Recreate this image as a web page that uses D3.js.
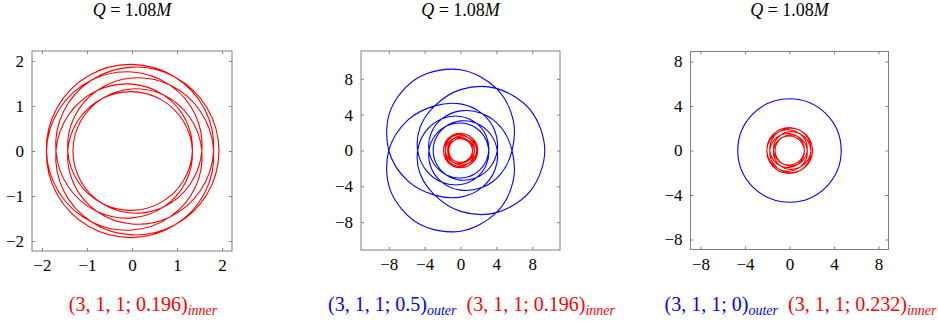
<!DOCTYPE html>
<html>
<head>
<meta charset="utf-8">
<script src="https://cdn.jsdelivr.net/npm/d3@7"></script>
<style>
  body { margin: 0; background: #fff; }
  svg { display: block; }
  text { font-family: "Liberation Serif", "Times New Roman", serif; fill: #000; }
</style>
</head>
<body>
<svg id="chart" width="938" height="327"></svg>
<script>
// Charge shown in every panel title
const chargeValue = "1.08";

// Axis ticks per panel
const ticksInner = [-2, -1, 0, 1, 2];
const ticksWide = [-8, -4, 0, 4, 8];

// Radial profiles r(phi) of the periodic orbits, sampled every 30 degrees
// over one radial period (apoapsis -> periapsis -> apoapsis)
const sampleStepDeg = 30;
const radialPeriodDeg = 840;
const orbitPeriods = 3;

// (3,1,1; 0.196) inner orbit
const rInner196 = [1.93, 1.922, 1.899, 1.862, 1.813, 1.755, 1.689, 1.62, 1.551, 1.485, 1.427, 1.378, 1.341, 1.318, 1.31,
                   1.318, 1.341, 1.378, 1.427, 1.485, 1.551, 1.62, 1.689, 1.755, 1.813, 1.862, 1.899, 1.922, 1.93];
// (3,1,1; 0.232) inner orbit
const rInner232 = [2.08, 2.07, 2.041, 1.995, 1.933, 1.859, 1.777, 1.69, 1.603, 1.521, 1.447, 1.385, 1.339, 1.31, 1.30,
                   1.31, 1.339, 1.385, 1.447, 1.521, 1.603, 1.69, 1.777, 1.859, 1.933, 1.995, 2.041, 2.07, 2.08];
// (3,1,1; 0.5) outer orbit (zoom-whirl)
const rOuter05 = [9.40, 9.01, 8.00, 6.79, 5.75, 5.20, 4.78, 4.42, 4.10, 3.80, 3.52, 3.30, 3.15, 3.07, 3.05,
                  3.07, 3.15, 3.30, 3.52, 3.80, 4.10, 4.42, 4.78, 5.20, 5.75, 6.79, 8.00, 9.01, 9.40];
// (3,1,1; 0) outer orbit: circular
const rOuterCircular = 4.65;

const RED = "#ff0000";
const BLUE = "#0000ff";

// Panel layout
const panels = [
  { left: 32,  top: 51, size: 200, half: 2.22, ticks: ticksInner,
    orbits: [{ r: rInner196, color: RED }], circle: null,
    label: [{ text: "(3, 1, 1; 0.196)", sub: "inner", color: RED }] },
  { left: 361, top: 51, size: 199, half: 11.1, ticks: ticksWide,
    orbits: [{ r: rOuter05, color: BLUE }, { r: rInner196, color: RED }], circle: null,
    label: [{ text: "(3, 1, 1; 0.5)", sub: "outer", color: BLUE },
            { text: "(3, 1, 1; 0.196)", sub: "inner", color: RED }] },
  { left: 690.5, top: 51.5, size: 198, half: 8.9, ticks: ticksWide,
    orbits: [{ r: rInner232, color: RED }], circle: { r: rOuterCircular, color: BLUE },
    label: [{ text: "(3, 1, 1; 0)", sub: "outer", color: BLUE },
            { text: "(3, 1, 1; 0.232)", sub: "inner", color: RED }] }
];

const svg = d3.select("#chart");
const frameColor = "#808080";
const tickLen = 3;

function orbitPoints(profile) {
  const pts = [];
  for (let p = 0; p < orbitPeriods; p++) {
    for (let i = 0; i < profile.length - 1; i++) {
      const a = (p * radialPeriodDeg + i * sampleStepDeg) * Math.PI / 180;
      pts.push([profile[i] * Math.cos(a), profile[i] * Math.sin(a)]);
    }
  }
  return pts;
}

panels.forEach(pn => {
  const x = d3.scaleLinear().domain([-pn.half, pn.half]).range([pn.left, pn.left + pn.size]);
  const y = d3.scaleLinear().domain([-pn.half, pn.half]).range([pn.top + pn.size, pn.top]);
  const g = svg.append("g");
  const cx = pn.left + pn.size / 2;

  // Orbits
  const line = d3.line().x(d => x(d[0])).y(d => y(d[1])).curve(d3.curveCatmullRomClosed.alpha(0.5));
  pn.orbits.forEach(o => {
    g.append("path").attr("d", line(orbitPoints(o.r)))
      .attr("fill", "none").attr("stroke", o.color).attr("stroke-width", 1.1);
  });
  if (pn.circle) {
    g.append("circle").attr("cx", x(0)).attr("cy", y(0))
      .attr("r", x(pn.circle.r) - x(0))
      .attr("fill", "none").attr("stroke", pn.circle.color).attr("stroke-width", 1.1);
  }

  // Axes: inward ticks on all four sides
  const axes = [
    d3.axisBottom(x).tickValues(pn.ticks).tickSizeInner(-tickLen).tickSizeOuter(0).tickPadding(8),
    d3.axisLeft(y).tickValues(pn.ticks).tickSizeInner(-tickLen).tickSizeOuter(0).tickPadding(8),
    d3.axisTop(x).tickValues(pn.ticks).tickSizeInner(-tickLen).tickSizeOuter(0).tickFormat(""),
    d3.axisRight(y).tickValues(pn.ticks).tickSizeInner(-tickLen).tickSizeOuter(0).tickFormat("")
  ];
  const pos = [
    `translate(0,${pn.top + pn.size})`, `translate(${pn.left},0)`,
    `translate(0,${pn.top})`, `translate(${pn.left + pn.size},0)`
  ];
  axes.forEach((ax, i) => {
    const a = g.append("g").attr("transform", pos[i]).call(ax.tickFormat(i < 2 ? (d => d < 0 ? "\u2212" + Math.abs(d) : d) : ""));
    a.select(".domain").remove();
    a.selectAll("line").attr("stroke", frameColor);
    a.selectAll("text").attr("font-size", 17).attr("font-family", "Liberation Serif, serif").attr("fill", "#000");
  });
  g.append("rect").attr("x", pn.left).attr("y", pn.top).attr("width", pn.size).attr("height", pn.size)
    .attr("fill", "none").attr("stroke", frameColor).attr("stroke-width", 1);

  // Title
  const t = svg.append("text").attr("x", cx).attr("y", 16).attr("text-anchor", "middle").attr("font-size", 18);
  t.append("tspan").attr("font-style", "italic").text("Q");
  t.append("tspan").text(" = " + chargeValue);
  t.append("tspan").attr("font-style", "italic").text("M");

  // Orbit labels
  const lab = svg.append("text").attr("x", cx + 11).attr("y", 311).attr("text-anchor", "middle").attr("font-size", 20);
  pn.label.forEach((l, i) => {
    const m = lab.append("tspan").attr("fill", l.color).text(l.text);
    if (i > 0) m.attr("dx", 10).attr("dy", -4);
    lab.append("tspan").attr("fill", l.color).attr("font-style", "italic").attr("font-size", 14)
      .attr("dy", 4).text(l.sub);
  });
});
</script>
</body>
</html>
